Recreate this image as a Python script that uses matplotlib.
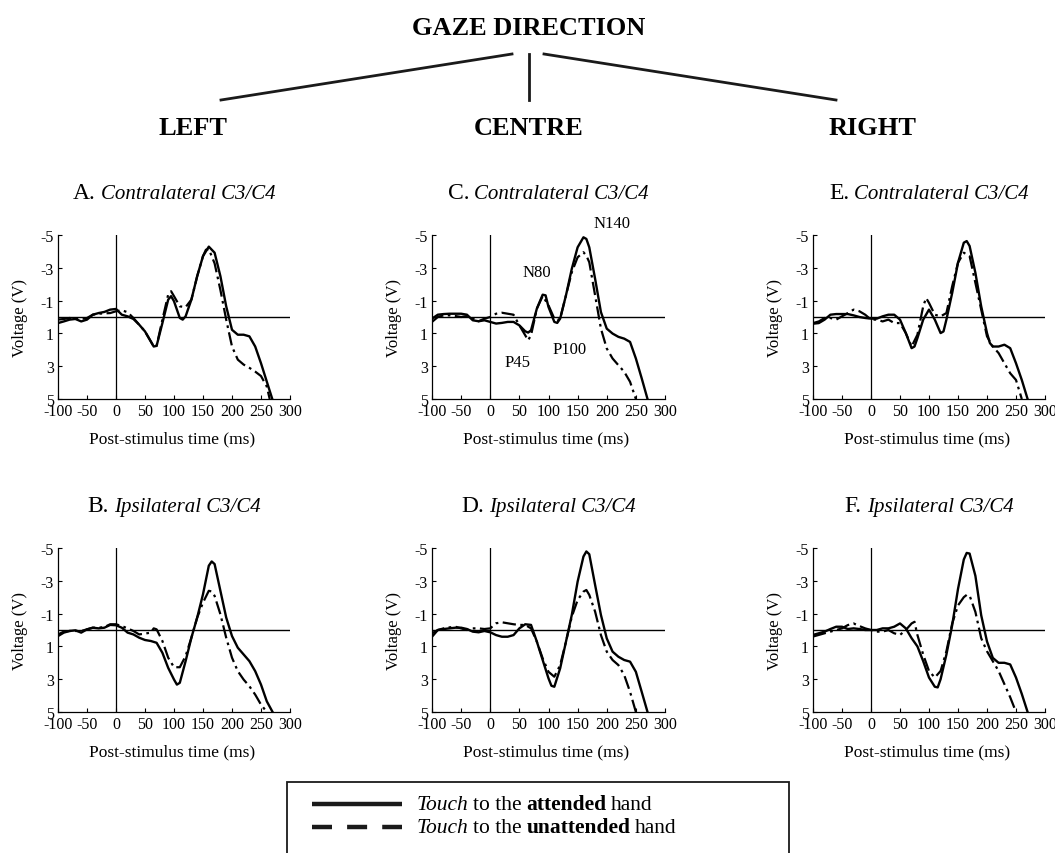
import matplotlib
matplotlib.use('Agg')
import matplotlib.pyplot as plt
from matplotlib.lines import Line2D
from matplotlib.patches import Rectangle

plt.rcParams['font.family'] = ['Liberation Serif', 'DejaVu Serif']
plt.rcParams['axes.unicode_minus'] = False

# ---------------- data (voltage in µV, negative up) ----------------
A_att_t = [-100,-90,-80,-70,-60,-50,-40,-30,-20,-10,0,10,20,30,40,50,60,65,70,80,90,95,100,110,115,120,130,140,150,160,170,180,190,200,210,220,230,240,250,260,270]
A_att_v = [0.37,0.27,0.16,0.12,0.27,0.16,-0.14,-0.24,-0.31,-0.45,-0.49,-0.14,-0.04,0.12,0.47,0.88,1.49,1.8,1.76,0.37,-1.06,-1.27,-0.96,0.06,0.16,-0.04,-1.06,-2.49,-3.71,-4.29,-3.92,-2.49,-0.65,0.78,1.08,1.08,1.18,1.8,2.82,3.94,5.06]
A_un_t = [-100,-90,-80,-70,-60,-50,-40,-30,-20,-10,0,10,20,30,40,50,60,65,70,80,90,95,100,110,120,130,140,150,155,160,170,180,190,200,210,220,230,240,250,260,265]
A_un_v = [0.16,0.12,0.06,0.12,0.12,0.06,-0.14,-0.2,-0.22,-0.24,-0.35,-0.41,-0.29,0.06,0.47,0.88,1.49,1.8,1.76,0.16,-1.37,-1.57,-1.27,-0.65,-0.6,-1.06,-2.49,-3.71,-4.1,-4.14,-3.27,-1.65,0.16,1.8,2.6,2.9,3.1,3.33,3.6,4.24,5.0]

B_att_t = [-100,-90,-80,-70,-60,-50,-40,-30,-20,-10,0,10,20,30,40,50,60,70,80,90,100,105,110,120,130,140,150,160,165,170,180,190,200,210,220,230,240,250,260,270]
B_att_v = [0.37,0.16,0.06,0.02,0.16,-0.04,-0.14,-0.1,-0.14,-0.31,-0.29,-0.14,0.16,0.27,0.47,0.61,0.67,0.78,1.39,2.31,3.02,3.33,3.22,1.9,0.47,-0.76,-2.18,-3.92,-4.18,-4.02,-2.39,-0.76,0.37,1.08,1.49,1.9,2.51,3.33,4.35,5.0]
B_un_t = [-100,-90,-80,-70,-60,-50,-40,-30,-20,-10,0,10,20,30,40,50,60,65,70,80,90,100,110,120,130,140,150,160,165,170,180,190,200,210,220,230,240,250,260]
B_un_v = [0.27,0.1,0.06,0.06,0.06,-0.04,-0.14,-0.14,-0.18,-0.35,-0.35,-0.24,-0.1,0.06,0.27,0.22,0.16,-0.1,-0.04,0.67,1.69,2.27,2.27,1.59,0.47,-0.76,-1.67,-2.39,-2.35,-2.08,-0.96,0.47,1.69,2.51,3.02,3.43,3.94,4.55,5.0]

C_att_t = [-100,-90,-80,-70,-60,-50,-40,-30,-20,-10,0,10,20,30,40,50,60,65,70,80,90,95,100,110,115,120,130,140,150,160,165,170,180,190,200,210,220,230,240,250,260,270]
C_att_v = [0.1,-0.14,-0.18,-0.2,-0.2,-0.2,-0.14,0.2,0.26,0.2,0.3,0.4,0.36,0.3,0.3,0.51,0.87,0.95,0.81,-0.51,-1.36,-1.32,-0.61,0.3,0.36,0.1,-1.32,-2.94,-4.25,-4.86,-4.76,-4.25,-2.33,-0.3,0.71,1.01,1.21,1.32,1.52,2.53,3.74,5.0]
C_un_t = [-100,-90,-80,-70,-60,-50,-40,-30,-20,-10,0,10,20,30,40,50,60,65,70,80,90,100,110,115,120,130,140,150,160,165,170,180,190,200,210,220,230,240,250]
C_un_v = [0.3,0.0,-0.1,-0.1,-0.06,0.0,-0.06,0.1,0.26,0.1,0.0,-0.2,-0.26,-0.2,-0.14,0.51,1.11,1.42,1.11,-0.51,-1.28,-0.71,0.1,0.2,0.1,-1.32,-2.73,-3.64,-3.95,-3.74,-3.34,-1.32,0.71,1.92,2.53,2.94,3.34,3.95,5.0]

D_att_t = [-100,-90,-80,-70,-60,-50,-40,-30,-20,-10,0,10,20,30,40,50,60,70,80,90,100,105,110,120,130,140,150,160,165,170,180,190,200,210,220,230,240,250,260,270]
D_att_v = [0.41,0.0,-0.06,-0.1,-0.14,-0.14,-0.06,0.1,0.14,0.06,0.14,0.31,0.41,0.41,0.31,-0.1,-0.35,-0.31,0.71,1.83,2.95,3.4,3.46,2.34,0.71,-0.92,-2.95,-4.48,-4.79,-4.62,-2.75,-0.92,0.51,1.32,1.63,1.83,1.93,2.55,3.77,5.0]
D_un_t = [-100,-90,-80,-70,-60,-50,-40,-30,-20,-10,0,10,20,30,40,50,60,70,80,90,100,110,120,130,140,150,160,165,170,180,190,200,210,220,230,240,250]
D_un_v = [0.2,0.0,-0.1,-0.16,-0.2,-0.1,0.0,-0.1,-0.1,-0.06,-0.1,-0.41,-0.47,-0.41,-0.35,-0.31,-0.31,-0.1,0.71,1.73,2.55,2.85,2.14,0.71,-0.81,-1.83,-2.34,-2.44,-2.14,-1.12,0.31,1.32,1.83,2.14,2.75,3.77,5.0]

E_att_t = [-100,-90,-80,-70,-60,-50,-40,-30,-20,-10,0,10,20,30,40,50,60,70,75,80,90,100,110,120,125,130,140,150,160,165,170,180,190,200,205,210,220,230,240,250,260,270]
E_att_v = [0.41,0.37,0.16,-0.14,-0.18,-0.18,-0.18,-0.1,0.0,0.06,0.1,0.1,-0.04,-0.14,-0.14,0.16,0.98,1.9,1.8,1.29,0.16,-0.45,0.16,0.98,0.88,0.16,-1.47,-3.31,-4.53,-4.63,-4.33,-2.69,-0.65,0.98,1.59,1.8,1.8,1.69,1.9,2.82,3.84,5.0]
E_un_t = [-100,-90,-80,-70,-60,-50,-40,-30,-20,-10,0,10,20,30,40,50,60,70,80,90,95,100,110,120,130,140,150,160,170,180,190,200,210,220,230,240,250,260]
E_un_v = [0.37,0.27,0.06,0.06,0.16,-0.04,-0.24,-0.45,-0.35,-0.14,0.16,0.16,0.27,0.16,0.37,0.37,0.98,1.8,1.08,-0.65,-1.16,-0.86,-0.14,-0.04,-0.24,-1.88,-3.31,-3.92,-3.71,-2.08,-0.45,1.18,1.8,2.2,2.82,3.43,3.84,5.0]

F_att_t = [-100,-90,-80,-70,-60,-50,-40,-30,-20,-10,0,10,20,30,40,50,60,70,80,90,100,110,115,120,130,140,150,160,165,170,180,190,200,210,220,230,240,250,260,270]
F_att_v = [0.3,0.2,0.1,-0.06,-0.2,-0.2,-0.06,-0.1,-0.06,0.0,0.0,0.0,-0.1,-0.1,-0.2,-0.4,-0.1,0.5,1.0,1.9,2.9,3.46,3.5,3.0,1.5,-0.3,-2.5,-4.3,-4.7,-4.66,-3.3,-0.9,0.7,1.7,2.0,2.0,2.1,2.9,3.9,5.0]
F_un_t = [-100,-90,-80,-70,-60,-50,-40,-30,-20,-10,0,10,20,30,40,50,60,70,75,80,90,100,110,120,130,140,150,160,165,170,180,190,200,210,220,230,240,250]
F_un_v = [0.4,0.3,0.2,0.1,0.0,-0.1,-0.3,-0.4,-0.24,-0.1,0.0,0.1,0.1,0.0,0.2,0.3,0.0,-0.4,-0.5,0.3,1.5,2.5,2.9,2.5,1.3,-0.4,-1.5,-2.0,-2.14,-2.1,-1.1,0.5,1.3,1.9,2.5,3.3,4.1,5.0]

x_ticks = [-100, -50, 0, 50, 100, 150, 200, 250, 300]
y_ticks = [-5, -3, -1, 1, 3, 5]

panel_letters = ['A', 'B', 'C', 'D', 'E', 'F']
panel_names = ['Contralateral C3/C4', 'Ipsilateral C3/C4'] * 3
gaze_labels = ['LEFT', 'CENTRE', 'RIGHT']
components = ['N140', 'N80', 'P45', 'P100']
component_t = [209, 80, 46, 137]
component_v = [-5.74, -2.73, 2.73, 1.93]

series = {
    'A': (A_att_t, A_att_v, A_un_t, A_un_v),
    'B': (B_att_t, B_att_v, B_un_t, B_un_v),
    'C': (C_att_t, C_att_v, C_un_t, C_un_v),
    'D': (D_att_t, D_att_v, D_un_t, D_un_v),
    'E': (E_att_t, E_att_v, E_un_t, E_un_v),
    'F': (F_att_t, F_att_v, F_un_t, F_un_v),
}

# ---------------- layout ----------------
W, H = 1055, 854
fig = plt.figure(figsize=(W / 100, H / 100), dpi=100)
renderer = fig.canvas.get_renderer()


def fx(x):
    return x / W


def fy(y):
    return 1 - y / H


def rich(x, y, pieces, gap, center=False):
    objs, widths = [], []
    for s, kw in pieces:
        t = fig.text(0, fy(y), s, va='baseline', ha='left', **kw)
        objs.append(t)
        widths.append(t.get_window_extent(renderer).width)
    total = sum(widths) + gap * (len(pieces) - 1)
    cur = x - total / 2 if center else x
    for t, w in zip(objs, widths):
        t.set_x(fx(cur))
        cur += w + gap


col_left = [58, 432, 813]
col_width = [232, 233, 232]
row_top = [236, 549]
row_bottom = [400, 713]
title_base = [199, 512]

for i, letter in enumerate(panel_letters):
    col, row = i // 2, i % 2
    l, w = col_left[col], col_width[col]
    t, b = row_top[row], row_bottom[row]
    ax = fig.add_axes([fx(l), fy(b), w / W, (b - t) / H])
    at, av, ut, uv = series[letter]
    ax.axhline(0, color='black', lw=1.0, zorder=1)
    ax.axvline(0, color='black', lw=0.9, zorder=1)
    ax.plot(ut, uv, color='black', lw=1.6, ls=(0, (6, 2, 1.2, 2)), zorder=2,
            solid_joinstyle='round', dash_joinstyle='round')
    ax.plot(at, av, color='black', lw=1.7, zorder=3, solid_joinstyle='round')
    ax.set_xlim(-100, 300)
    ax.set_ylim(5, -5)
    ax.set_xticks(x_ticks)
    ax.set_yticks(y_ticks)
    ax.set_xticklabels([str(v) for v in x_ticks])
    ax.set_yticklabels([str(v) for v in y_ticks])
    ax.tick_params(direction='in', length=3, width=0.8, labelsize=11.5, pad=3)
    ax.tick_params(axis='y', pad=3)
    for s in ['top', 'right']:
        ax.spines[s].set_visible(False)
    for s in ['left', 'bottom']:
        ax.spines[s].set_linewidth(0.9)
    ax.set_ylabel('Voltage (V)', fontsize=12)
    ax.yaxis.set_label_coords(-30 / w, 0.5)
    ax.set_xlabel('Post-stimulus time (ms)', fontsize=12.5)
    ax.xaxis.set_label_coords(0.49, -39 / (b - t), transform=ax.transAxes)
    ax.xaxis.label.set_va('center')
    rich(l + w / 2, title_base[row],
         [(letter + '.', dict(fontsize=17)),
          (panel_names[i], dict(fontsize=15, style='italic'))],
         gap=5, center=True)
    if letter == 'C':
        for name, ct, cv in zip(components, component_t, component_v):
            ax.text(ct, cv, name, fontsize=12, ha='center', va='center', clip_on=False)

# ---------------- header ----------------
fig.text(fx(529), fy(35), 'GAZE DIRECTION', fontsize=19, fontweight='bold',
         ha='center', va='baseline')
for name, xc in zip(gaze_labels, [193, 529, 873]):
    fig.text(fx(xc), fy(135), name, fontsize=19, fontweight='bold',
             ha='center', va='baseline')
for (x0, y0, x1, y1) in [(221, 101, 512, 55), (529, 55, 529, 101), (544, 55, 836, 101)]:
    fig.add_artist(Line2D([fx(x0), fx(x1)], [fy(y0), fy(y1)], color='#1a1a1a', lw=2.0,
                          transform=fig.transFigure))

# ---------------- legend ----------------
fig.add_artist(Rectangle((fx(287), fy(880)), (789 - 287) / W, (880 - 783) / H,
                         transform=fig.transFigure, fill=False, ec='#1a1a1a', lw=1.3,
                         clip_on=False))
fig.add_artist(Line2D([fx(312), fx(402)], [fy(805), fy(805)], color='#1a1a1a', lw=3.2,
                      transform=fig.transFigure, solid_capstyle='butt'))
fig.add_artist(Line2D([fx(312), fx(402)], [fy(828), fy(828)], color='#1a1a1a', lw=3.2,
                      ls=(0, (4.5, 3.4)), dash_capstyle='butt',
                      transform=fig.transFigure))
rich(417, 810, [('Touch', dict(fontsize=15.5, style='italic')),
                ('to the', dict(fontsize=15.5)),
                ('attended', dict(fontsize=15.5, fontweight='bold')),
                ('hand', dict(fontsize=15.5))], gap=4.5)
rich(417, 833, [('Touch', dict(fontsize=15.5, style='italic')),
                ('to the', dict(fontsize=15.5)),
                ('unattended', dict(fontsize=15.5, fontweight='bold')),
                ('hand', dict(fontsize=15.5))], gap=4.5)

fig.savefig('out.png', dpi=100)
